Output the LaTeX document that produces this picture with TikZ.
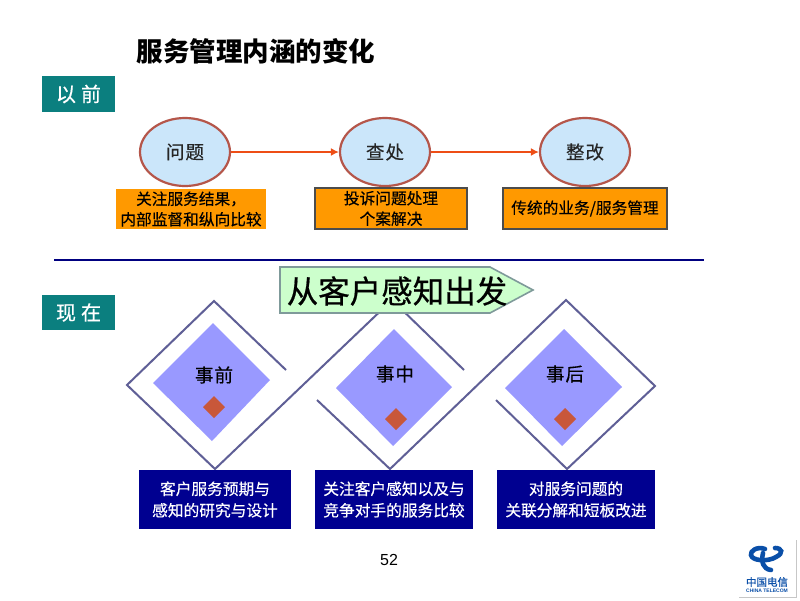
\documentclass[tikz,border=0pt]{standalone}
\usepackage{fontspec}
\setmainfont{Liberation Sans}
\newfontfamily\cjk[FakeBold=0.35]{Noto Sans CJK SC}
\newfontfamily\cjkb[FakeBold=0.6]{Noto Sans CJK SC}
\newfontfamily\cjkt{Noto Sans CJK SC}
\usetikzlibrary{arrows.meta,shapes.geometric}
\definecolor{teal1}{HTML}{0B7F7F}
\definecolor{ringred}{HTML}{B5564A}
\definecolor{skyfill}{HTML}{CBE6FA}
\definecolor{orangefill}{HTML}{FF9900}
\definecolor{navyfill}{HTML}{000090}
\definecolor{rulenavy}{HTML}{000080}
\definecolor{mintfill}{HTML}{CCFFCC}
\definecolor{mintline}{HTML}{7F9A9A}
\definecolor{lavender}{HTML}{9999FF}
\definecolor{diaedge}{HTML}{5F5F96}
\definecolor{redsq}{HTML}{C8573A}
\definecolor{arrowred}{HTML}{EE4D15}
\definecolor{logoblue}{HTML}{0A4FA8}
\tikzset{
  x=1pt,y=-1pt,
  tealbox/.style={fill=teal1,draw=none,minimum width=73pt,minimum height=36pt,inner sep=0pt,text=white,font=\cjkb\fontsize{20}{24}\selectfont},
  ring/.style={ellipse,draw=ringred,line width=2.2pt,fill=skyfill,minimum width=90pt,minimum height=68pt,inner sep=0pt,font=\cjk\fontsize{18.5}{22}\selectfont,text=black!85},
  orangebox/.style={fill=orangefill,draw=black!70,line width=1.1pt,inner sep=0pt,align=center,font=\cjk\fontsize{15.7}{20.5}\selectfont},
  navybox/.style={fill=navyfill,draw=none,inner sep=0pt,align=center,text=white,font=\cjk\fontsize{15.7}{21.5}\selectfont},
  flowarrow/.style={draw=arrowred,line width=2.4pt,-{Latex[length=8pt,width=8pt]}},
  diaedgeline/.style={draw=diaedge,line width=2pt,line join=miter},
  innerdia/.style={fill=lavender,draw=none},
  reddia/.style={fill=redsq,draw=none},
  dialabel/.style={font=\cjkb\fontsize{18.5}{22}\selectfont,text=black,inner sep=0pt},
  logostroke/.style={draw=logoblue,line width=4.6pt,line cap=round},
}
\begin{document}
\begin{tikzpicture}
\useasboundingbox (0,0) rectangle (800,600);
\fill[white] (0,0) rectangle (800,600);
\node[font=\cjkt\bfseries\fontsize{26.5}{30}\selectfont,inner sep=0pt] (title) at (256,51) {服务管理内涵的变化};
\node[tealbox] (before) at (78.5,94) {以\hspace{5pt}前};
\node[tealbox,minimum height=35pt] (now) at (78.5,312.5) {现\hspace{5pt}在};

\node[ring] (c1) at (185,152) {问\hspace{1pt}题};
\node[ring] (c2) at (385,152) {查\hspace{1pt}处};
\node[ring] (c3) at (585,152) {整\hspace{1pt}改};
\draw[flowarrow] (c1) -- (c2);
\draw[flowarrow] (c2) -- (c3);

\node[orangebox,draw=none,minimum width=150pt,minimum height=40pt] (o1) at (191,209) {关注服务结果，\\内部监督和纵向比较};
\node[orangebox,minimum width=152pt,minimum height=41pt] (o2) at (391,208.5) {投诉问题处理\\个案解决};
\node[orangebox,minimum width=164pt,minimum height=41pt] (o3) at (585,208.5) {传统的业务/服务管理};

\coordinate (ruleL) at (54,260);
\coordinate (ruleR) at (704,260);
\draw[rulenavy,line width=2.8pt] (ruleL) -- (ruleR);

% outer diamond lines
\draw[diaedgeline] (286,370) -- (214,301) -- (127,385) -- (215,469) -- (392,300) -- (464,370);
\draw[diaedgeline] (317,400) -- (390,469) -- (566,300) -- (655,386) -- (567,469) -- (496,400);

% inner diamonds
\fill[innerdia] (213,323) -- (270,380) -- (212,441) -- (153,383) -- cycle;
\fill[innerdia] (394,329) -- (452,387) -- (393,446) -- (336,388) -- cycle;
\fill[innerdia] (564,329) -- (622,387) -- (562,446) -- (505,388) -- cycle;
\fill[reddia] (214,396) -- (225,407) -- (214,418) -- (203,407) -- cycle;
\fill[reddia] (396,408) -- (407,419) -- (396,430) -- (385,419) -- cycle;
\fill[reddia] (565,408) -- (576,419) -- (565,430) -- (554,419) -- cycle;
\node[dialabel] (t1) at (214,375) {事\hspace{1pt}前};
\node[dialabel] (t2) at (395,374) {事\hspace{1pt}中};
\node[dialabel] (t3) at (565,374) {事\hspace{1pt}后};

% start arrow
\draw[fill=mintfill,draw=mintline,line width=1.6pt] (280,267) -- (490,267) -- (533,290) -- (490,313) -- (280,313) -- cycle;
\node[font=\cjkb\fontsize{31.5}{36}\selectfont,inner sep=0pt] (slogan) at (397,291) {从客户感知出发};

\node[navybox,minimum width=152pt,minimum height=59pt] (b1) at (215,499.5) {客户服务预期与\\感知的研究与设计};
\node[navybox,minimum width=158pt,minimum height=59pt] (b2) at (394,499.5) {关注客户感知以及与\\竞争对手的服务比较};
\node[navybox,minimum width=158pt,minimum height=59pt] (b3) at (576,499.5) {对服务问题的\\关联分解和短板改进};

\node[font=\fontsize{16}{18}\selectfont,inner sep=0pt] (page) at (389,560) {52};

% logo
\fill[black!22] (738.5,539.5) rectangle (797,598);
\fill[white] (737,538) rectangle (796,597);
\draw[logostroke] (765,549) .. controls (757,546) and (750,551) .. (751,555)
  .. controls (752,561) and (768,562) .. (776,557)
  .. controls (784,553) and (782,548) .. (775,548);
\draw[logostroke] (763,553) .. controls (761,562) and (763,569) .. (771,570);
\node[font=\cjkb\fontsize{10.5}{12}\selectfont,text=logoblue,inner sep=0pt] (logocn) at (767,582) {中国电信};
\node[font=\bfseries\fontsize{5}{6}\selectfont,text=logoblue,inner sep=0pt] (logoen) at (767,591) {CHINA TELECOM};
\end{tikzpicture}
\end{document}
